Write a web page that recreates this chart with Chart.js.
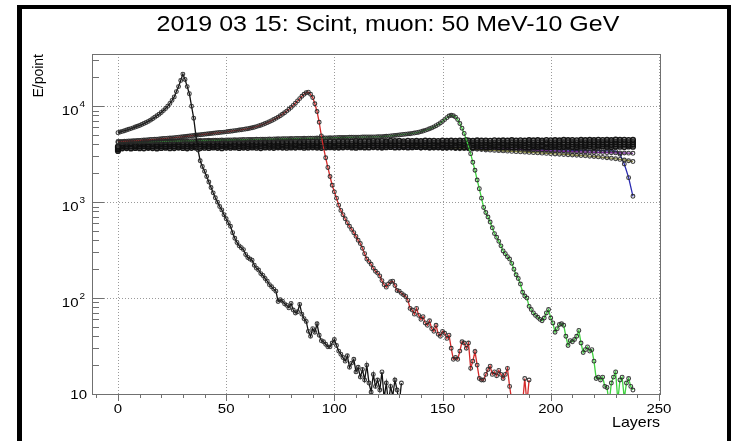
<!DOCTYPE html>
<html>
<head>
<meta charset="utf-8">
<script src="https://cdn.jsdelivr.net/npm/chart.js@4.4.1/dist/chart.umd.min.js"></script>
<style>
  html, body { margin: 0; padding: 0; background: #fff; }
  #wrap { position: relative; width: 734px; height: 441px; }
</style>
</head>
<body>
<div id="wrap"><canvas id="c" width="734" height="441"></canvas></div>
<script>
// Energy deposited per point, by layer, for muons stopping at different depths.
// Layer-by-layer series (one value per layer, starting at layer 0).
const blackPeak = [
  5300,5380,5460,5550,5640,5740,5840,5950,6060,6180,
  6300,6440,6590,6750,6940,7150,7400,7680,7950,8250,
  8600,9000,9450,10000,10700,11500,12500,14200,16000,18500,
  21600,19000,16000,13500,10000,7500,5000,3500,2700,2350,
  2100,1850,1620,1420,1250,1110,1000,900,830,740,
  670,610,560,480,420,380,350,335,320,285,
  265,255,248,220,205,196,180,172,160,150,
  138,131,124,118,92,96,93,87,84,79,
  88,75,70,72,86,68,61,57,45,40,
  48,44,54,41,36,35,33,31,31,34,
  37,32,28,26,24,22,25,19,21,23,
  17,19,15,18,14,20,13,10.5,16,12,
  14,11,17,9,13,8,12,9.5,14,11,
  8,13
];
const redPeak = [
  4280,4290,4300,4310,4320,4330,4345,4360,4375,4390,
  4400,4420,4435,4450,4470,4490,4505,4520,4540,4560,
  4580,4600,4620,4640,4660,4680,4700,4725,4750,4775,
  4800,4830,4860,4890,4920,4950,4980,5010,5040,5070,
  5100,5130,5160,5190,5220,5250,5280,5310,5340,5370,
  5400,5440,5480,5520,5560,5600,5640,5680,5730,5780,
  5830,5890,5960,6040,6130,6230,6340,6460,6590,6740,
  6900,7070,7260,7470,7700,7950,8230,8540,8890,9280,
  9720,10200,10750,11350,12000,12700,13300,13800,14000,13300,
  12300,10600,8800,6800,4900,3700,2900,2300,1850,1500,
  1280,1100,930,820,740,670,610,560,520,480,
  440,400,370,330,290,255,240,225,205,190,
  182,170,152,138,130,140,148,150,135,120,
  118,112,108,104,95,78,75,68,78,66,
  60,64,55,52,58,48,45,52,42,40,
  45,43,38,41,30,23,24,23,28,35,
  34,30,34,18.5,22,27.7,20,14.5,14,14,
  16,18,19.5,16,17,15.5,17.6,16,14.5,16,
  18.5,12,8.5,7,7,7,7,8,14.5,8,
  14
];
const greenPeak = [
  4180,4200,4190,4210,4220,4200,4230,4220,4240,4230,
  4250,4240,4260,4250,4270,4260,4280,4270,4290,4280,
  4300,4290,4310,4300,4320,4310,4330,4320,4340,4330,
  4350,4340,4360,4350,4370,4360,4380,4370,4390,4380,
  4400,4390,4410,4400,4420,4410,4430,4420,4440,4430,
  4450,4440,4460,4450,4470,4460,4480,4470,4490,4480,
  4500,4490,4510,4500,4520,4510,4530,4520,4540,4530,
  4550,4540,4560,4550,4570,4560,4580,4570,4590,4580,
  4600,4590,4610,4600,4620,4610,4630,4620,4640,4630,
  4650,4640,4660,4650,4670,4660,4680,4670,4690,4680,
  4700,4700,4710,4710,4720,4720,4730,4740,4740,4750,
  4750,4760,4760,4770,4770,4780,4780,4780,4790,4790,
  4800,4810,4820,4840,4860,4880,4900,4930,4960,4990,
  5020,5050,5080,5110,5140,5170,5210,5250,5300,5360,
  5430,5510,5600,5700,5810,5940,6090,6260,6460,6690,
  6950,7250,7600,7900,8050,7950,7700,7250,6600,5900,
  5200,4500,3800,3200,2600,2150,1700,1380,1100,880,
  780,700,620,540,470,430,390,350,310,290,
  270,255,230,200,175,160,140,115,105,100,
  82,76,70,66,63,60,58,62,70,76,
  62,55,44,48,53,54,52,40,32,36,
  35,37,40,46,34,27,29,31,28,29,
  22,14.5,15,14,15,12,11.7,8,13,15,
  17,8.5,14,15,9,13,14.5,12,11
];

// Through-going muons: one value every second layer, layers 0..238.
const bandLayerStep = 2;
const bandA = [
  3420,3640,3660,3630,3670,3650,3640,3680,3660,3630,
  3670,3690,3650,3660,3700,3670,3640,3680,3700,3660,
  3690,3670,3710,3680,3650,3700,3690,3720,3670,3700,
  3680,3710,3690,3660,3720,3700,3680,3730,3700,3690,
  3720,3700,3740,3690,3710,3730,3700,3680,3720,3740,
  3710,3700,3730,3750,3720,3690,3740,3720,3710,3750,
  3730,3700,3740,3760,3720,3730,3750,3710,3740,3760,
  3730,3750,3720,3760,3740,3710,3750,3770,3730,3750,
  3760,3740,3720,3770,3750,3730,3760,3780,3740,3750,
  3770,3740,3760,3780,3750,3730,3770,3760,3790,3750,
  3760,3780,3750,3770,3790,3760,3740,3780,3770,3790,
  3760,3780,3800,3770,3750,3790,3780,3760,3800,3780
];
const bandB = [
  3560,3810,3830,3800,3840,3820,3850,3810,3830,3860,
  3840,3820,3850,3830,3870,3840,3820,3860,3850,3830,
  3870,3850,3880,3840,3860,3890,3850,3870,3840,3880,
  3860,3890,3870,3850,3900,3870,3880,3860,3900,3880,
  3870,3910,3880,3860,3900,3920,3890,3870,3910,3890,
  3880,3920,3900,3930,3890,3910,3880,3920,3940,3900,
  3920,3890,3930,3910,3940,3920,3900,3940,3930,3910,
  3950,3920,3940,3910,3930,3960,3930,3950,3920,3940,
  3960,3930,3950,3970,3940,3920,3960,3950,3930,3970,
  3950,3940,3970,3960,3930,3980,3950,3960,3940,3980,
  3960,3950,3980,3970,3940,3990,3960,3970,3950,3990,
  3970,3950,3990,3980,3960,4000,3970,3990,3960,3980
];
const bandC = [
  3680,3960,3990,4010,3970,4000,4020,3980,4010,3990,
  4030,4000,4020,4040,4010,3990,4030,4050,4020,4040,
  4010,4050,4030,4060,4020,4040,4070,4030,4050,4080,
  4040,4060,4030,4070,4090,4050,4060,4080,4040,4090,
  4070,4050,4090,4100,4060,4080,4110,4070,4090,4060,
  4100,4080,4110,4090,4070,4120,4100,4080,4110,4130,
  4090,4110,4130,4100,4120,4090,4140,4110,4130,4150,
  4110,4130,4100,4140,4160,4120,4140,4110,4150,4170,
  4130,4150,4120,4160,4140,4170,4130,4160,4180,4140,
  4160,4180,4150,4170,4140,4190,4160,4180,4200,4150,
  4180,4160,4200,4170,4190,4210,4170,4190,4160,4200,
  4220,4180,4200,4170,4210,4230,4190,4210,4180,4220
];
const bandD = [
  3800,4120,4160,4140,4180,4150,4170,4200,4160,4190,
  4170,4210,4180,4200,4230,4190,4210,4180,4220,4240,
  4200,4230,4210,4250,4220,4200,4240,4260,4220,4250,
  4230,4270,4240,4260,4230,4280,4250,4270,4240,4290,
  4260,4280,4250,4300,4270,4290,4260,4310,4280,4300,
  4270,4320,4290,4310,4280,4330,4300,4320,4290,4340,
  4310,4330,4300,4350,4320,4340,4310,4360,4330,4350,
  4320,4370,4340,4360,4330,4380,4350,4370,4340,4390,
  4360,4380,4350,4400,4370,4390,4360,4410,4380,4400,
  4370,4420,4390,4410,4380,4430,4400,4420,4390,4440,
  4410,4430,4400,4450,4420,4440,4410,4460,4430,4450,
  4420,4470,4440,4460,4430,4480,4450,4470,4440,4460
];
const blueTail = [
  3480,3720,3700,3740,3710,3730,3750,3720,3740,3710,
  3740,3760,3730,3750,3720,3760,3740,3770,3730,3750,
  3770,3740,3760,3780,3750,3770,3740,3780,3760,3750,
  3780,3760,3790,3750,3770,3790,3760,3780,3750,3790,
  3770,3760,3790,3770,3750,3780,3760,3790,3770,3750,
  3780,3760,3740,3770,3750,3730,3760,3740,3720,3750,
  3730,3710,3740,3720,3700,3720,3690,3710,3680,3700,
  3670,3690,3660,3650,3670,3640,3620,3640,3610,3600,
  3640,3630,3620,3610,3600,3590,3580,3570,3560,3550,
  3550,3540,3540,3530,3530,3520,3520,3510,3510,3500,
  3500,3490,3490,3480,3480,3470,3470,3460,3460,3450,
  3450,3440,3440,3430,3430,3400,3150,2500,1800,1150
];
const purpleTail = [
  3520,3870,3850,3880,3860,3840,3880,3870,3890,3850,
  3880,3900,3870,3890,3860,3900,3880,3910,3870,3890,
  3910,3880,3900,3920,3890,3910,3880,3920,3900,3890,
  3920,3900,3930,3890,3910,3930,3900,3920,3890,3930,
  3910,3900,3930,3910,3890,3920,3900,3930,3910,3890,
  3920,3900,3880,3910,3890,3870,3900,3880,3860,3890,
  3870,3850,3880,3860,3840,3860,3830,3850,3820,3840,
  3810,3830,3800,3790,3810,3780,3760,3780,3750,3740,
  3730,3710,3700,3680,3670,3650,3640,3620,3610,3590,
  3580,3560,3550,3530,3520,3500,3490,3470,3460,3450,
  3430,3420,3400,3390,3380,3360,3350,3340,3330,3320,
  3310,3300,3290,3280,3270,3260,3250,3250,3240,3230
];
const oliveTail = [
  3600,3930,3950,3920,3960,3940,3970,3930,3950,3980,
  3950,3970,3940,3980,3960,3990,3950,3970,4000,3960,
  3980,4000,3970,3990,4010,3970,3990,4010,3980,4000,
  3990,4010,3980,4020,3990,4000,4020,3980,4010,3990,
  4010,3990,4020,4000,3980,4010,3990,4000,3970,3990,
  3980,3990,3960,3980,3950,3970,3940,3950,3920,3930,
  3910,3920,3890,3900,3870,3880,3850,3860,3830,3830,
  3800,3790,3770,3760,3740,3720,3700,3680,3660,3640,
  3610,3590,3570,3550,3530,3500,3480,3460,3440,3420,
  3400,3380,3360,3340,3320,3300,3280,3260,3240,3220,
  3200,3180,3160,3140,3120,3100,3080,3060,3040,3010,
  2990,2960,2930,2900,2870,2830,2790,2750,2700,2650
];

// Axis ticks
const xMajorTicks = [0, 50, 100, 150, 200, 250];
const yDecades = [10, 100, 1000, 10000];

const FONT = '"Liberation Sans", Arial, Helvetica, sans-serif';
const TEXT_SQUISH = 0.87;

function toPoints(values, step) {
  return values.map((v, i) => ({ x: i * step, y: v }));
}
// Circle markers joined by a coloured line.
function series(label, values, step, lineColor, marker) {
  return {
    label,
    data: toPoints(values, step),
    borderColor: lineColor,
    borderWidth: 1.3,
    pointStyle: 'circle',
    pointRadius: marker.r,
    pointBorderWidth: marker.w,
    pointBorderColor: marker.c,
    pointBackgroundColor: marker.fill,
    tension: 0,
    fill: false,
    clip: 0
  };
}
const peakMarker = { r: 1.9, w: 1.1, c: 'rgba(40,40,40,0.9)', fill: 'rgba(0,0,0,0)' };
const bandMarker = { r: 2.4, w: 1.4, c: 'rgba(15,15,15,0.95)', fill: 'rgba(70,70,70,0.55)' };

function drawText(ctx, str, x, y, size, align) {
  ctx.save();
  ctx.translate(x, y);
  ctx.scale(1, TEXT_SQUISH);
  ctx.font = size + 'px ' + FONT;
  ctx.textAlign = align;
  ctx.textBaseline = 'alphabetic';
  ctx.fillStyle = '#000';
  ctx.fillText(str, 0, 0);
  ctx.restore();
}

// Gridlines, frame, ticks, labels and the outer border, ROOT-canvas style.
const rootFrame = {
  id: 'rootFrame',
  beforeDatasetsDraw(chart) {
    const { ctx, chartArea: a, scales: { x, y } } = chart;
    ctx.save();
    ctx.strokeStyle = '#9a9a9a';
    ctx.lineWidth = 1;
    ctx.setLineDash([1, 2]);
    xMajorTicks.forEach(v => {
      const px = Math.round(x.getPixelForValue(v)) + 0.5;
      ctx.beginPath(); ctx.moveTo(px, a.top); ctx.lineTo(px, a.bottom); ctx.stroke();
    });
    yDecades.forEach(v => {
      const py = Math.round(y.getPixelForValue(v)) + 0.5;
      ctx.beginPath(); ctx.moveTo(a.left, py); ctx.lineTo(a.right, py); ctx.stroke();
    });
    ctx.restore();
  },
  afterDatasetsDraw(chart) {
    const { ctx, chartArea: a, scales: { x, y } } = chart;
    ctx.save();
    ctx.strokeStyle = '#707070';
    ctx.lineWidth = 1;
    ctx.strokeRect(Math.round(a.left) + 0.5, Math.round(a.top) + 0.5,
                   Math.round(a.right - a.left), Math.round(a.bottom - a.top));

    // y ticks (inside the frame), 1..9 per decade
    ctx.beginPath();
    yDecades.forEach(d => {
      for (let m = 1; m <= 9; m++) {
        const v = m * d;
        if (v < y.min || v > y.max) continue;
        const py = Math.round(y.getPixelForValue(v)) + 0.5;
        const len = m === 1 ? 12 : 7;
        ctx.moveTo(a.left, py); ctx.lineTo(a.left + len, py);
      }
    });
    // x ticks (below the frame), every 10 layers
    for (let v = -10; v <= 250; v += 10) {
      const px = Math.round(x.getPixelForValue(v)) + 0.5;
      const len = v % 50 === 0 ? 7 : 4;
      ctx.moveTo(px, a.bottom); ctx.lineTo(px, a.bottom + len);
    }
    ctx.stroke();

    // x tick labels
    xMajorTicks.forEach(v => {
      drawText(ctx, String(v), x.getPixelForValue(v), 413, 15, 'center');
    });
    // y tick labels: 10, 10^2, 10^3, 10^4
    yDecades.forEach(v => {
      const py = y.getPixelForValue(v);
      const exp = Math.round(Math.log10(v));
      if (exp === 1) {
        drawText(ctx, '10', 87, py + 4.5, 15, 'right');
      } else {
        drawText(ctx, String(exp), 85, py + 1, 10, 'right');
        drawText(ctx, '10', 78.5, py + 8.5, 15, 'right');
      }
    });

    // axis titles
    drawText(ctx, 'Layers', a.right, 427, 16, 'right');
    ctx.save();
    ctx.translate(43, a.top);
    ctx.rotate(-Math.PI / 2);
    ctx.font = '14px ' + FONT;
    ctx.textAlign = 'right';
    ctx.textBaseline = 'alphabetic';
    ctx.fillStyle = '#000';
    ctx.fillText('E/point', 0, 0);
    ctx.restore();

    // title
    drawText(ctx, '2019 03 15: Scint, muon: 50 MeV-10 GeV', 388, 31, 25, 'center');

    // outer canvas border
    ctx.fillStyle = '#000';
    ctx.fillRect(17, 5, 714, 4);
    ctx.fillRect(17, 5, 5, 436);
    ctx.fillRect(727, 5, 4, 436);
    ctx.restore();
  }
};

new Chart(document.getElementById('c'), {
  type: 'line',
  data: {
    datasets: [
      series('stop 1', blackPeak, 1, '#111111', peakMarker),
      series('stop 2', redPeak, 1, '#d42a2a', peakMarker),
      series('stop 3', greenPeak, 1, '#3fd23f', peakMarker),
      series('through 4', bandD, bandLayerStep, '#1a1a1a', bandMarker),
      series('through 3', bandC, bandLayerStep, '#202020', bandMarker),
      series('through 2', bandB, bandLayerStep, '#151515', bandMarker),
      series('through 1', bandA, bandLayerStep, '#222222', bandMarker),
      series('late stop 3', oliveTail, bandLayerStep, '#8a8a40', peakMarker),
      series('late stop 2', purpleTail, bandLayerStep, '#7a2a9a', peakMarker),
      series('late stop 1', blueTail, bandLayerStep, '#2a2ab0', peakMarker)
    ]
  },
  options: {
    responsive: false,
    animation: false,
    devicePixelRatio: 1,
    events: [],
    layout: { padding: { left: 92, top: 54, right: 74, bottom: 47 } },
    plugins: {
      legend: { display: false },
      tooltip: { enabled: false },
      title: { display: false }
    },
    scales: {
      x: { type: 'linear', min: -12, max: 250.5, display: false },
      y: { type: 'logarithmic', min: 10, max: 35000, display: false }
    }
  },
  plugins: [rootFrame]
});
</script>
</body>
</html>
